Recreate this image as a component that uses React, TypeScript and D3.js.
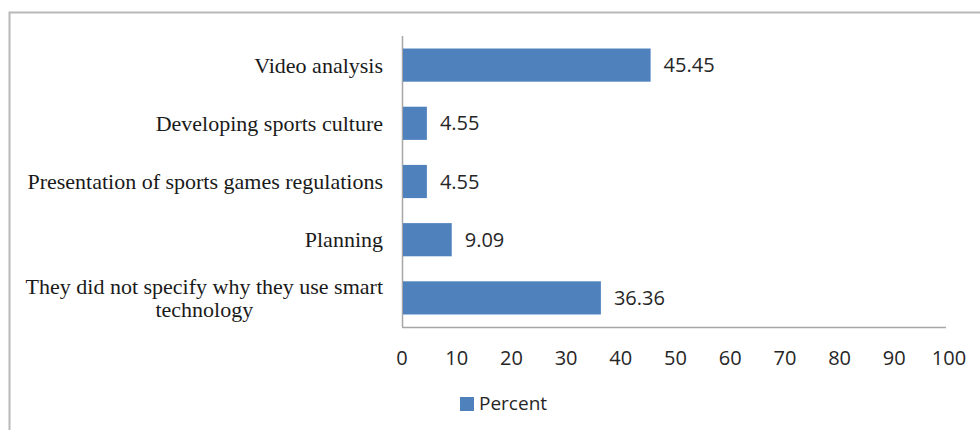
import React, { useEffect, useRef } from "react";
import * as d3 from "d3";

const categories = [
  "Video analysis",
  "Developing sports culture",
  "Presentation of sports games regulations",
  "Planning",
  "They did not specify why they use smart technology",
];
const categoryLines = [
  ["Video analysis"],
  ["Developing sports culture"],
  ["Presentation of sports games regulations"],
  ["Planning"],
  ["They did not specify why they use smart", "technology"],
];
const values = [45.45, 4.55, 4.55, 9.09, 36.36];
const xTicks = [0, 10, 20, 30, 40, 50, 60, 70, 80, 90, 100];
const seriesName = "Percent";

const W = 980;
const H = 430;
const BLUE = "#4F81BD";
const SERIF = "'Liberation Serif', 'Times New Roman', serif";
const SANS = "'Open Sans', 'Liberation Sans', sans-serif";

export default function App() {
  const ref = useRef<SVGSVGElement | null>(null);

  useEffect(() => {
    const svg = d3.select(ref.current);
    svg.selectAll("*").remove();

    const left = 402;
    const right = 949;
    const top = 36;
    const bottom = 327;

    const x = d3.scaleLinear().domain([0, 100]).range([left, right]);
    const y = d3
      .scaleBand<string>()
      .domain(categories)
      .range([top, bottom])
      .paddingInner(0.43)
      .paddingOuter(0.215);

    // outer frame (partially visible)
    svg
      .append("path")
      .attr("d", `M9.5,${H + 5} L9.5,12.5 L${W + 5},12.5`)
      .attr("fill", "none")
      .attr("stroke", "#b8b8b8")
      .attr("stroke-width", 2);

    // axes lines
    svg
      .append("line")
      .attr("x1", left + 0.5)
      .attr("x2", left + 0.5)
      .attr("y1", top)
      .attr("y2", bottom)
      .attr("stroke", "#a6a6a6")
      .attr("stroke-width", 1.5);
    svg
      .append("line")
      .attr("x1", left)
      .attr("x2", right - 3)
      .attr("y1", bottom + 0.5)
      .attr("y2", bottom + 0.5)
      .attr("stroke", "#a6a6a6")
      .attr("stroke-width", 1.5);

    // bars
    svg
      .selectAll("rect.bar")
      .data(values)
      .enter()
      .append("rect")
      .attr("class", "bar")
      .attr("x", x(0) + 1)
      .attr("y", (_, i) => y(categories[i])!)
      .attr("width", (d) => x(d) - x(0) - 1)
      .attr("height", y.bandwidth())
      .attr("fill", BLUE);

    // value labels
    svg
      .selectAll("text.val")
      .data(values)
      .enter()
      .append("text")
      .attr("class", "val")
      .attr("x", (d) => x(d) + 13)
      .attr("y", (_, i) => y(categories[i])! + y.bandwidth() / 2)
      .attr("dy", "0.35em")
      .attr("font-family", SANS)
      .attr("font-size", 20)
      .attr("fill", "#262626")
      .text((d) => d.toFixed(2));

    // category labels
    const labelRight = 383;
    categoryLines.forEach((lines, i) => {
      const cy = y(categories[i])! + y.bandwidth() / 2;
      const lh = 23;
      const g = svg.append("g");
      const texts = lines.map((ln, j) =>
        g
          .append("text")
          .attr("y", cy + (j - (lines.length - 1) / 2) * lh)
          .attr("dy", "0.35em")
          .attr("font-family", SERIF)
          .attr("font-size", 22)
          .attr("fill", "#1a1a1a")
          .text(ln)
      );
      if (lines.length === 1) {
        texts[0].attr("x", labelRight).attr("text-anchor", "end");
      } else {
        const widths = texts.map((t) => (t.node() as SVGTextElement).getComputedTextLength());
        const maxW = Math.max(...widths);
        const cx = labelRight - maxW / 2;
        texts.forEach((t) => t.attr("x", cx).attr("text-anchor", "middle"));
      }
    });

    // x tick labels
    svg
      .selectAll("text.tick")
      .data(xTicks)
      .enter()
      .append("text")
      .attr("class", "tick")
      .attr("x", (d) => x(d))
      .attr("y", 358)
      .attr("dy", "0.35em")
      .attr("text-anchor", "middle")
      .attr("font-family", SANS)
      .attr("font-size", 20)
      .attr("fill", "#262626")
      .text((d) => String(d));

    // legend
    svg
      .append("rect")
      .attr("x", 460)
      .attr("y", 397)
      .attr("width", 14)
      .attr("height", 14)
      .attr("fill", BLUE);
    svg
      .append("text")
      .attr("x", 479)
      .attr("y", 403)
      .attr("dy", "0.35em")
      .attr("font-family", SANS)
      .attr("font-size", 19)
      .attr("fill", "#262626")
      .text(seriesName);
  }, []);

  return (
    <svg
      ref={ref}
      width={W}
      height={H}
      style={{ position: "absolute", left: 0, top: 0, background: "#fff" }}
    />
  );
}
